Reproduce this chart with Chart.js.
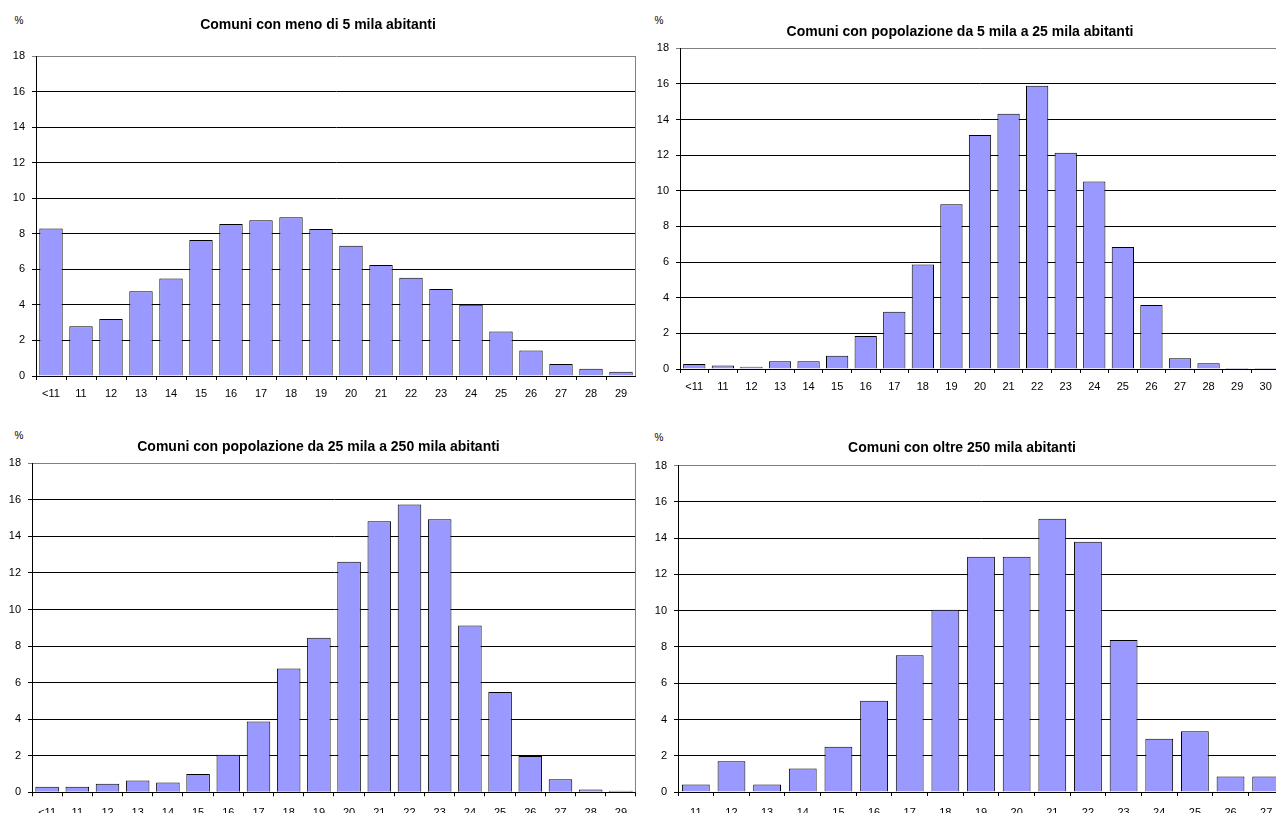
<!DOCTYPE html>
<html>
<head>
<meta charset="utf-8">
<script src="https://cdn.jsdelivr.net/npm/chart.js@4"></script>
<style>
html, body { margin: 0; padding: 0; background: #fff; overflow: hidden; width: 1276px; height: 813px; }
.box { position: absolute; }
.pct { position: absolute; font: 10px "Liberation Sans", Arial, sans-serif; color: #000; transform: translate(-50%, -50%); }
</style>
</head>
<body>
<div class="pct" style="left:19px;top:20px">%</div>
<div class="pct" style="left:659px;top:20px">%</div>
<div class="pct" style="left:19px;top:435px">%</div>
<div class="pct" style="left:659px;top:437px">%</div>

<div class="box" style="left:0px;top:0px;width:636px;height:400px"><canvas id="c1"></canvas></div>
<div class="box" style="left:640px;top:0px;width:640px;height:400px"><canvas id="c2"></canvas></div>
<div class="box" style="left:0px;top:400px;width:637px;height:430px"><canvas id="c3"></canvas></div>
<div class="box" style="left:640px;top:400px;width:644px;height:430px"><canvas id="c4"></canvas></div>

<script>
// classi di eta' (anni) e percentuali per ampiezza demografica dei comuni
const etaPiccoli = ["<11", "11", "12", "13", "14", "15", "16", "17", "18", "19", "20", "21", "22", "23", "24", "25", "26", "27", "28", "29"];
const valPiccoli = [8.3, 2.8, 3.2, 4.77, 5.48, 7.65, 8.55, 8.76, 8.93, 8.27, 7.32, 6.25, 5.52, 4.9, 4.01, 2.51, 1.44, 0.68, 0.41, 0.24];

const etaMedi = ["<11", "11", "12", "13", "14", "15", "16", "17", "18", "19", "20", "21", "22", "23", "24", "25", "26", "27", "28", "29", "30"];
const valMedi = [0.28, 0.19, 0.13, 0.43, 0.43, 0.75, 1.85, 3.22, 5.86, 9.24, 13.14, 14.33, 15.9, 12.14, 10.52, 6.85, 3.59, 0.6, 0.32, 0.06, 0.06];

const etaGrandi = ["<11", "11", "12", "13", "14", "15", "16", "17", "18", "19", "20", "21", "22", "23", "24", "25", "26", "27", "28", "29"];
const valGrandi = [0.31, 0.31, 0.47, 0.64, 0.53, 1.0, 2.06, 3.88, 6.77, 8.46, 12.62, 14.83, 15.74, 14.94, 9.12, 5.49, 1.99, 0.71, 0.16, 0.09];

const etaMetropoli = ["11", "12", "13", "14", "15", "16", "17", "18", "19", "20", "21", "22", "23", "24", "25", "26", "27"];
const valMetropoli = [0.42, 1.69, 0.42, 1.29, 2.5, 5.04, 7.54, 10.06, 12.98, 12.98, 15.08, 13.81, 8.38, 2.94, 3.35, 0.85, 0.85];

const FONT = '"Liberation Sans", Arial, sans-serif';

const bordoDestro = {
    id: "bordoDestro",
    afterDraw(chart) {
        const { ctx, chartArea } = chart;
        ctx.save();
        ctx.strokeStyle = "#808080";
        ctx.lineWidth = 1;
        ctx.beginPath();
        ctx.moveTo(chartArea.right - 0.5, chartArea.top);
        ctx.lineTo(chartArea.right - 0.5, chartArea.bottom);
        ctx.stroke();
        ctx.restore();
    }
};

function istogramma(id, etichette, valori, titolo, g) {
    const ctx = document.getElementById(id).getContext("2d");
    return new Chart(ctx, {
        type: "bar",
        data: {
            labels: etichette,
            datasets: [{
                data: valori,
                backgroundColor: "#9999ff",
                borderColor: "#000000",
                borderWidth: 1,
                barPercentage: 0.78,
                categoryPercentage: 1
            }]
        },
        options: {
            responsive: true,
            maintainAspectRatio: false,
            animation: false,
            layout: { padding: 0 },
            plugins: {
                legend: { display: false },
                tooltip: { enabled: false },
                title: {
                    display: true,
                    text: titolo,
                    color: "#000",
                    font: { family: FONT, size: 14, weight: "bold" },
                    padding: { top: g.tTop, bottom: g.tBottom }
                }
            },
            scales: {
                x: {
                    offset: true,
                    grid: { display: true, drawOnChartArea: false, drawTicks: true, tickLength: 4, color: "#000", offset: true },
                    border: { display: true, color: "#000" },
                    ticks: { color: "#000", font: { family: FONT, size: 11 }, padding: g.xPad, maxRotation: 0, autoSkip: false },
                    afterFit(scale) { scale.height = g.xH; }
                },
                y: {
                    min: 0,
                    max: 18,
                    ticks: { stepSize: 2, color: "#000", font: { family: FONT, size: 11 }, padding: 7 },
                    grid: {
                        color: (c) => (c.tick && c.tick.value === 18 ? "#808080" : "#000"),
                        tickLength: 4
                    },
                    border: { display: true, color: "#000" },
                    afterFit(scale) { scale.width = g.yW; }
                }
            }
        },
        plugins: [bordoDestro]
    });
}

istogramma("c1", etaPiccoli, valPiccoli, "Comuni con meno di 5 mila abitanti",
    { yW: 36, xH: 24, tTop: 16.6, tBottom: 22.6, xPad: 7 });
istogramma("c2", etaMedi, valMedi, "Comuni con popolazione da 5 mila a 25 mila abitanti",
    { yW: 40, xH: 31, tTop: 23.9, tBottom: 7.6, xPad: 7 });
istogramma("c3", etaGrandi, valGrandi, "Comuni con popolazione da 25 mila a 250 mila abitanti",
    { yW: 32, xH: 37.7, tTop: 38.3, tBottom: 8.2, xPad: 10 });
istogramma("c4", etaMetropoli, valMetropoli, "Comuni con oltre 250 mila abitanti",
    { yW: 38, xH: 38, tTop: 39.6, tBottom: 9.3, xPad: 10 });
</script>
</body>
</html>
